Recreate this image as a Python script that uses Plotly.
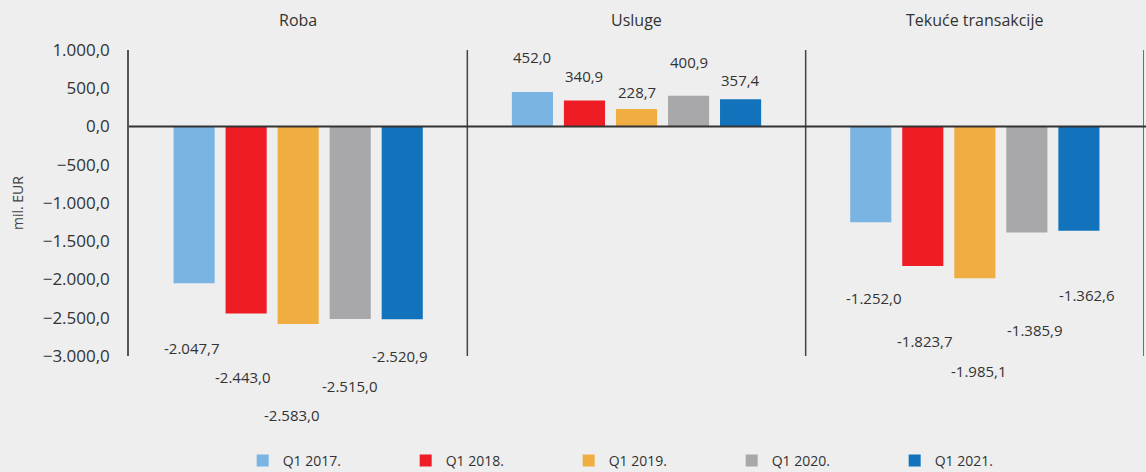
import plotly.graph_objects as go

# ---- data ----
categories = ["Roba", "Usluge", "Tekuće transakcije"]
series_names = ["Q1 2017.", "Q1 2018.", "Q1 2019.", "Q1 2020.", "Q1 2021."]
roba = [-2047.7, -2443.0, -2583.0, -2515.0, -2520.9]
usluge = [452.0, 340.9, 228.7, 400.9, 357.4]
tekuce = [-1252.0, -1823.7, -1985.1, -1385.9, -1362.6]
y_tick_vals = [1000, 500, 0, -500, -1000, -1500, -2000, -2500, -3000]

# ---- style ----
colors = ["#79b4e3", "#ee1c25", "#f0ad42", "#a8a8ab", "#1273bc"]
# per-label pixel offsets (from bar end) as laid out in the reference
label_yshift = [
    [-65, -64, -91, -67, -37],
    [35, 24, 17, 34, 19],
    [-76, -75, -93, -97, -64],
]
label_xshift = [
    [-2, -3, -6, 0, -2],
    [0, 0, 0, 0, 0],
    [3, 2, 4, 8, 8],
]
bg = "#eeeeee"
txt = "#333333"
num_font = "Open Sans"
bargap = 0.231

values_by_cat = [roba, usluge, tekuce]

fig = go.Figure()
for j, name in enumerate(series_names):
    fig.add_trace(go.Bar(
        x=categories,
        y=[vals[j] for vals in values_by_cat],
        name=name,
        marker=dict(color=colors[j], line=dict(width=0)),
        hoverinfo="skip",
    ))

slot = (1 - bargap) / len(series_names)
annotations = []
for i, vals in enumerate(values_by_cat):
    for j, v in enumerate(vals):
        annotations.append(dict(
            x=i + (j - (len(series_names) - 1) / 2) * slot,
            y=v, xref="x", yref="y",
            text=f"{v:,.1f}".replace(",", " ").replace(".", ",").replace(" ", "."),
            showarrow=False,
            yshift=label_yshift[i][j], xshift=label_xshift[i][j],
            font=dict(family=num_font, size=15, color=txt),
        ))
    annotations.append(dict(
        x=i, y=1, xref="x", yref="paper", text=categories[i],
        showarrow=False, yshift=30, yanchor="middle",
        font=dict(family="Open Sans", size=16, color=txt),
    ))

annotations.append(dict(
    x=-0.1103, y=0.5, xref="paper", yref="paper", text="mil. EUR",
    textangle=-90, showarrow=False, xanchor="center", yanchor="middle",
    font=dict(family="Open Sans", size=14, color="#444444"),
))

shapes = []
for k in range(len(categories)):
    shapes.append(dict(type="line", xref="x", yref="paper",
                       x0=k + 0.5, x1=k + 0.5, y0=0, y1=1,
                       line=dict(color="#444444", width=1.5)))
shapes.append(dict(type="line", xref="paper", yref="y", x0=0, x1=1.003, y0=0, y1=0,
                   line=dict(color="#333333", width=2)))

fig.update_layout(
    width=1146, height=472,
    margin=dict(l=129, r=2, t=50, b=116, autoexpand=False),
    paper_bgcolor=bg, plot_bgcolor=bg,
    barmode="group", bargap=bargap, bargroupgap=0.21,
    separators=",.",
    showlegend=True,
    legend=dict(orientation="h", x=0.112, xanchor="left", y=-0.343, yanchor="middle",
                font=dict(family="Open Sans", size=14, color=txt),
                entrywidth=118, entrywidthmode="pixels",
                bgcolor="rgba(0,0,0,0)", traceorder="normal"),
    xaxis=dict(showticklabels=False, showgrid=False, zeroline=False, showline=False,
               range=[-0.5, 2.5], fixedrange=True),
    yaxis=dict(range=[-3000, 1000], tickvals=y_tick_vals, tickformat=",.1f",
               showgrid=False, zeroline=False, showline=True, linecolor="#555555",
               linewidth=1.5, ticks="", ticklabelstandoff=14,
               tickfont=dict(family=num_font, size=17, color=txt)),
    annotations=annotations,
    shapes=shapes,
)

fig.write_html(
    "out.html",
    config={"displayModeBar": False},
    post_script="document.body.style.margin='0';document.body.style.background='#eeeeee';",
)
